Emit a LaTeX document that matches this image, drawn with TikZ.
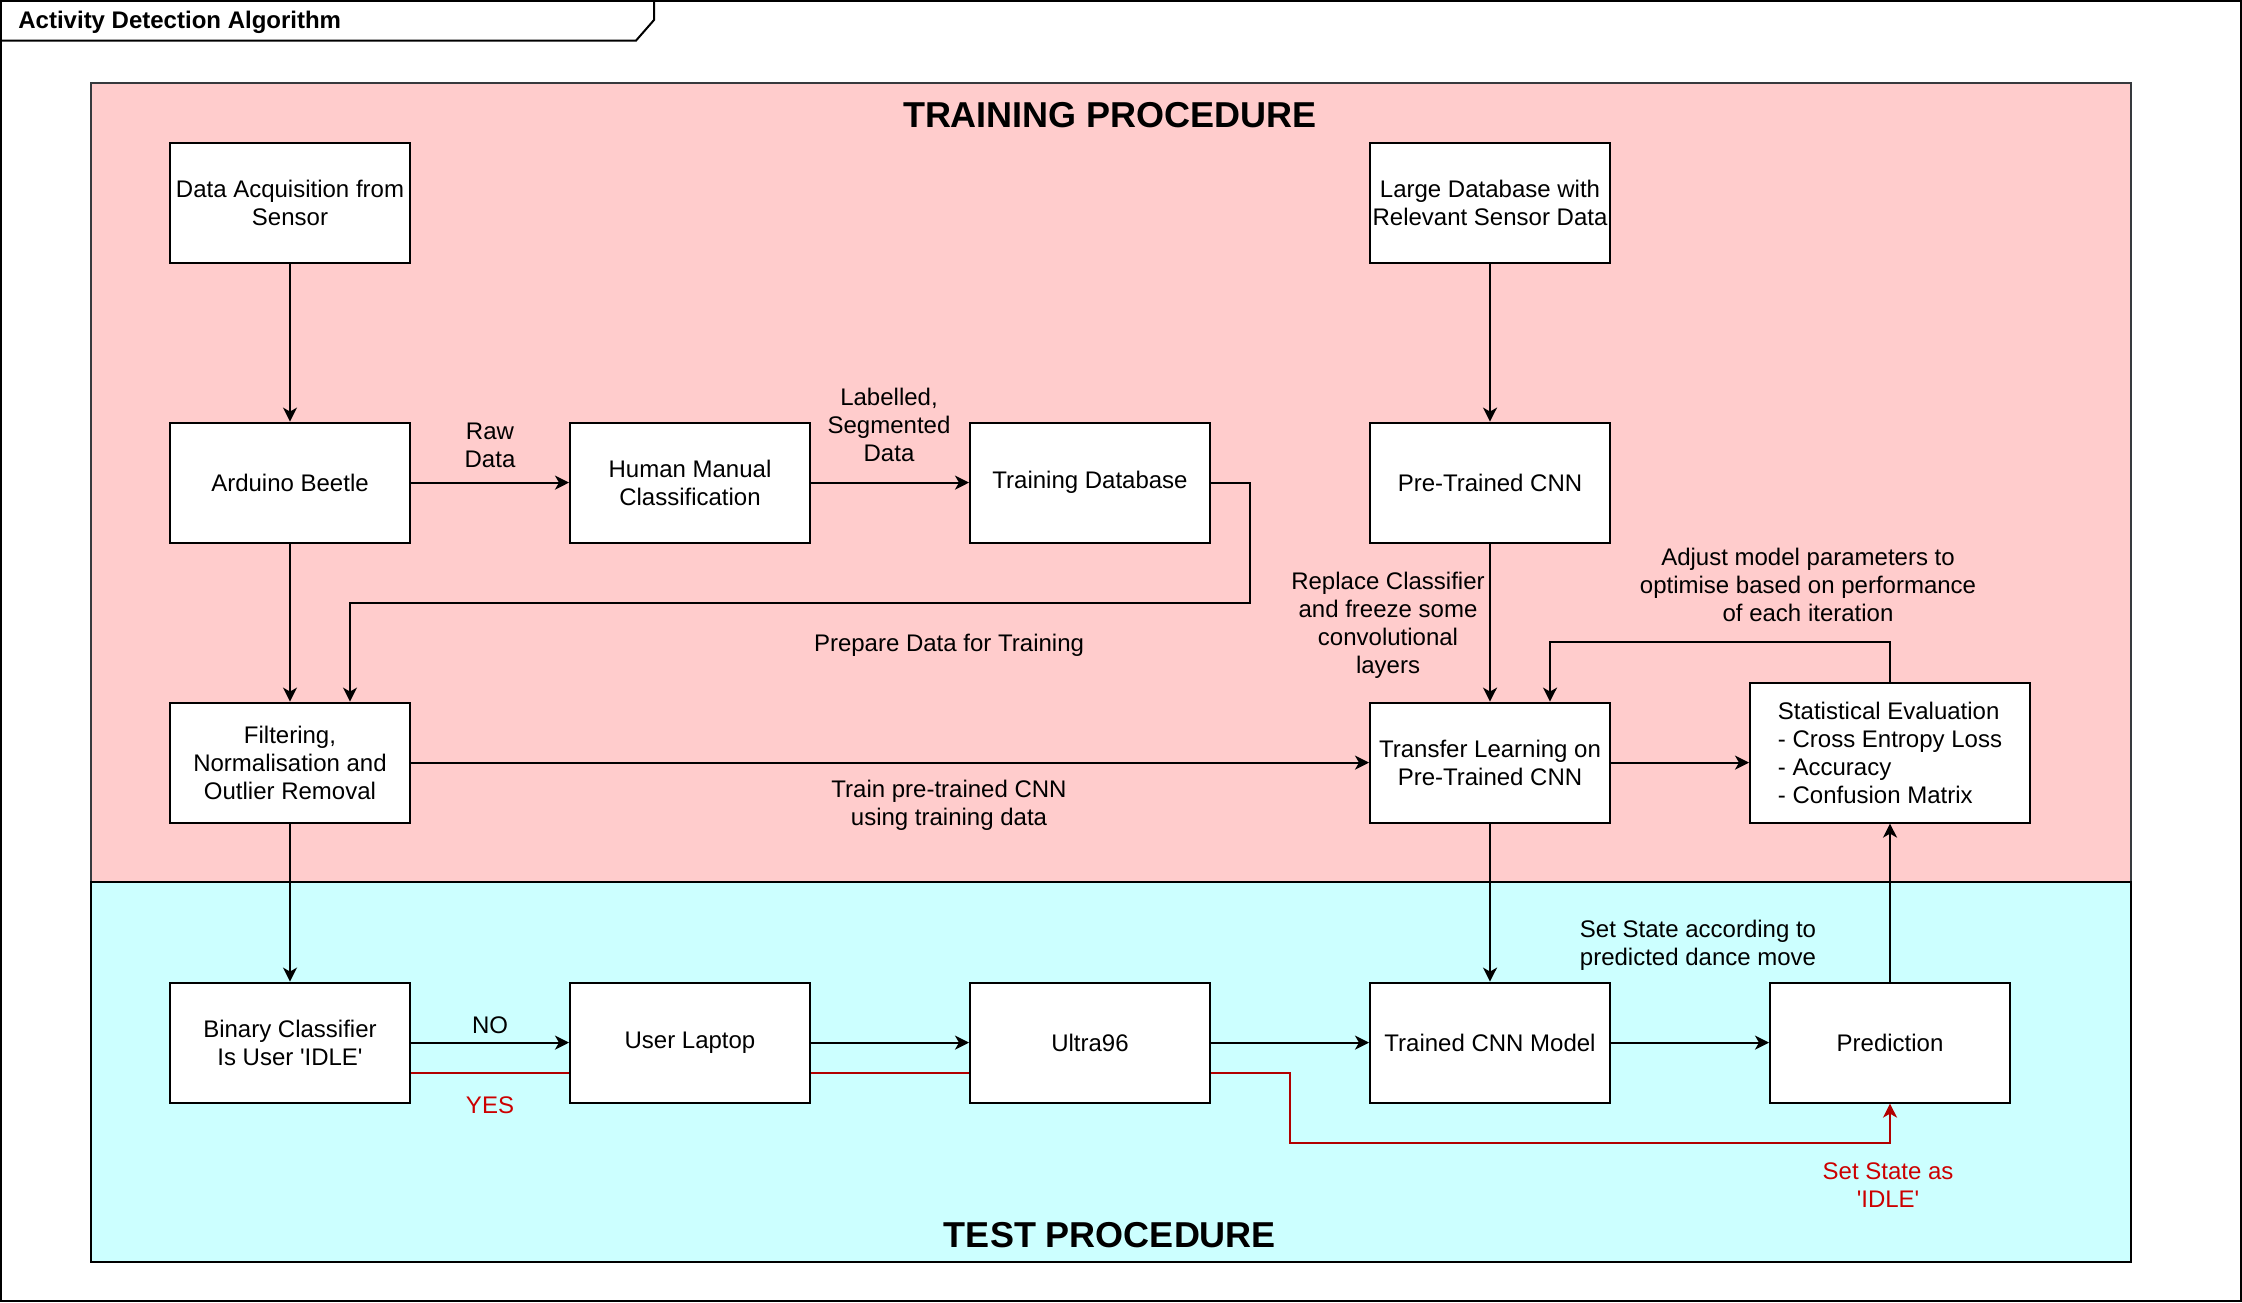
\documentclass[tikz,border=0pt]{standalone}
\usepackage{fontspec}
\setmainfont{Liberation Sans}
\usetikzlibrary{arrows.meta}
\definecolor{pinkbg}{HTML}{FFCCCC}
\definecolor{cyanbg}{HTML}{CCFFFF}
\definecolor{pinkframe}{HTML}{36393D}
\definecolor{redline}{HTML}{B20000}
\definecolor{redtext}{HTML}{CC0000}
\begin{document}
\begin{tikzpicture}[x=1pt,y=-1pt,
  every node/.style={font=\fontsize{12}{14}\selectfont},
  box/.style={draw, line width=1pt, fill=white, minimum width=120pt, minimum height=60pt, align=center, inner sep=1pt},
  sebox/.style={box, minimum width=140pt, minimum height=70pt, align=left},
  lbl/.style={align=center, inner sep=0pt},
  arr/.style={line width=1pt, -{Stealth[length=7pt,width=7pt,inset=2pt]}},
  redarr/.style={line width=1pt, draw=redline, -{Stealth[length=7pt,width=7pt,inset=2pt]}},
  redln/.style={line width=1pt, draw=redline},
  bigtitle/.style={font=\fontsize{18}{21}\selectfont\bfseries, inner sep=0pt}
]
\useasboundingbox (0,0) rectangle (1121,651);
% outer frame
\draw[line width=1pt] (0.5,0.5) rectangle (1120.3,650.3);
\draw[line width=1pt] (0.5,20.3) -- (318,20.3) -- (327,10) -- (327,0.5);
\node[anchor=west, inner sep=0pt, font=\fontsize{12}{14}\selectfont\bfseries] (title) at (9,11) {Activity Detection Algorithm};
% regions
\draw[line width=1pt, draw=pinkframe, fill=pinkbg] (45.3,41.5) rectangle (1065.5,441);
\draw[line width=1pt, fill=cyanbg] (45.3,441) rectangle (1065.5,631);
\node[bigtitle] (trainT) at (555,57.5) {TRAINING PROCEDURE};
\node[bigtitle] (testT) at (555,617.5) {TEST PROCEDURE};
% boxes
\node[box] (da) at (145,101.3) {Data Acquisition from\\Sensor};
\node[box] (ld) at (745,101.3) {Large Database with\\Relevant Sensor Data};
\node[box] (ab) at (145,241.3) {Arduino Beetle};
\node[box] (hm) at (345,241.3) {Human Manual\\Classification};
\node[box] (td) at (545,241.3) {Training Database};
\node[box] (pt) at (745,241.3) {Pre-Trained CNN};
\node[box] (fi) at (145,381.3) {Filtering,\\Normalisation and\\Outlier Removal};
\node[box] (tl) at (745,381.3) {Transfer Learning on\\Pre-Trained CNN};
\node[sebox] (se) at (945,376.3) {Statistical Evaluation\\- Cross Entropy Loss\\- Accuracy\\- Confusion Matrix};
\node[box] (bc) at (145,521.3) {Binary Classifier\\Is User \textquotesingle IDLE\textquotesingle};
\node[box] (ul) at (345,521.3) {User Laptop};
\node[box] (u96) at (545,521.3) {Ultra96};
\node[box] (tc) at (745,521.3) {Trained CNN Model};
\node[box] (pr) at (945,521.3) {Prediction};
% helper coordinates
\coordinate (r1) at (625,301.3);
\coordinate (r3) at (645,571.3);
% connectors
\draw[arr] (da.south) -- (ab.north);
\draw[arr] (ld.south) -- (pt.north);
\draw[arr] (ab.east) -- (hm.west);
\draw[arr] (hm.east) -- (td.west);
\draw[arr] (td.east) -| (r1) -| ([xshift=30pt]fi.north);
\draw[arr] (ab.south) -- (fi.north);
\draw[arr] (fi.east) -- (tl.west);
\draw[arr] (pt.south) -- (tl.north);
\draw[arr] (tl.east) -- (tl.east -| se.west);
\draw[arr] (se.north) -- ++(0,-20) -| ([xshift=30pt]tl.north);
\draw[arr] (fi.south) -- (bc.north);
\draw[arr] (bc.east) -- (ul.west);
\draw[arr] (ul.east) -- (u96.west);
\draw[arr] (u96.east) -- (tc.west);
\draw[arr] (tl.south) -- (tc.north);
\draw[arr] (tc.east) -- (pr.west);
\draw[arr] (pr.north) -- (se.south);
\draw[redln] ([yshift=-15pt]bc.east) -- ([yshift=-15pt]ul.west);
\draw[redln] ([yshift=-15pt]ul.east) -- ([yshift=-15pt]u96.west);
\draw[redarr] ([yshift=-15pt]u96.east) -| (r3) -| (pr.south);
% labels
\node[lbl] (l1) at (245,222.5) {Raw\\Data};
\node[lbl] (l2) at (444.5,212.5) {Labelled,\\Segmented\\Data};
\node[lbl] (l3) at (474.5,322.5) {Prepare Data for Training};
\node[lbl] (l4) at (694,312.5) {Replace Classifier\\and freeze some\\convolutional\\layers};
\node[lbl] (l5) at (904,292.5) {Adjust model parameters to\\optimise based on performance\\of each iteration};
\node[lbl] (l6) at (474.5,402.5) {Train pre-trained CNN\\using training data};
\node[lbl] (l7) at (849,472.5) {Set State according to\\predicted dance move};
\node[lbl] (l8) at (245,512.5) {NO};
\node[lbl, text=redtext] (l9) at (245,552.5) {YES};
\node[lbl, text=redtext] (l10) at (944,592.5) {Set State as\\\textquotesingle IDLE\textquotesingle};
\end{tikzpicture}
\end{document}
